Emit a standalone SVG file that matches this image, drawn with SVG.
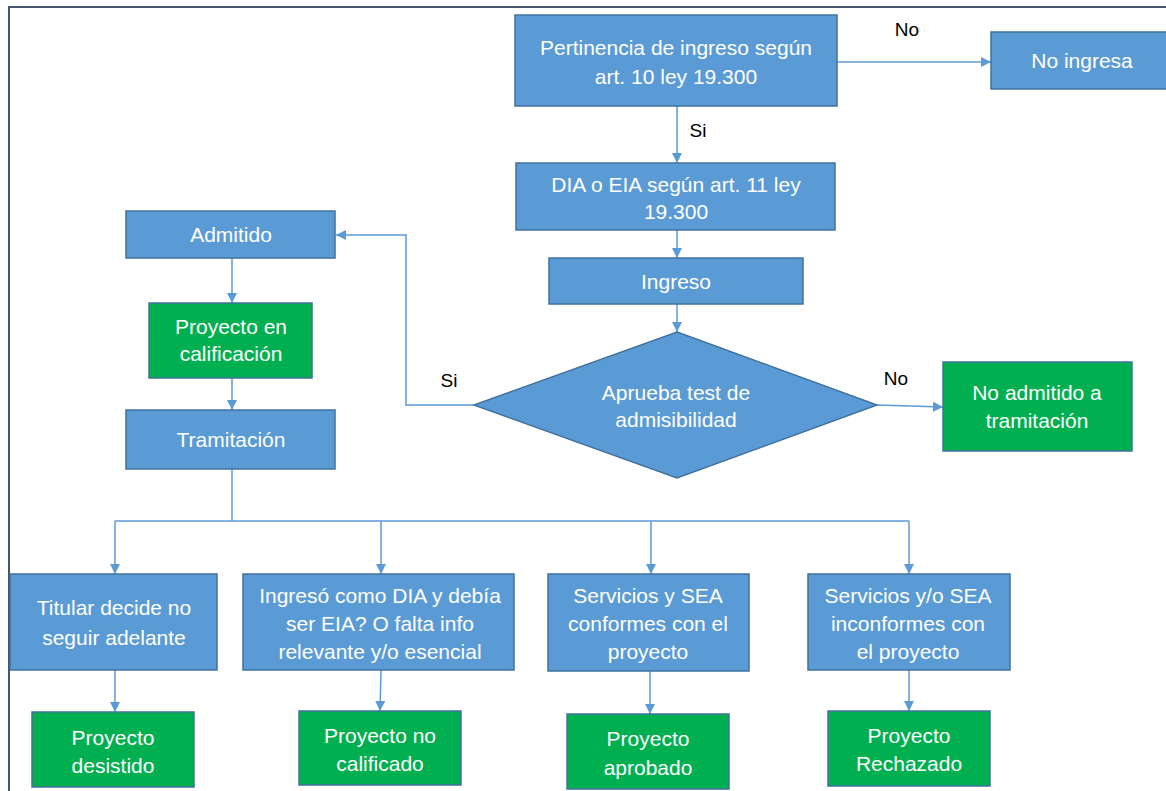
<svg xmlns="http://www.w3.org/2000/svg" width="1166" height="791" viewBox="0 0 1166 791">
<style>
.b{fill:#5b9bd5;stroke:#41719c;stroke-width:1.5}
.g{fill:#00b050;stroke:#41719c;stroke-width:1.5}
.t{font-family:"Liberation Sans",Arial,sans-serif;font-size:21px;fill:#ffffff;text-anchor:middle}
.l{font-family:"Liberation Sans",Arial,sans-serif;font-size:19px;fill:#000000;text-anchor:middle}
.c{fill:none;stroke:#5b9bd5;stroke-width:1.5}
</style>
<defs>
<marker id="ah" viewBox="0 0 10 10" refX="10" refY="5" markerWidth="10" markerHeight="10" markerUnits="userSpaceOnUse" orient="auto">
<path d="M0,0 L10,5 L0,10 Z" fill="#5b9bd5"/>
</marker>
</defs>
<rect width="1166" height="791" fill="#ffffff"/>
<path d="M9,800 L9,7 L1170,7" fill="none" stroke="#44546a" stroke-width="2"/>
<g id="connectors">
<path class="c" d="M837,62 L991,62" marker-end="url(#ah)"/>
<path class="c" d="M677,106 L677,163" marker-end="url(#ah)"/>
<path class="c" d="M677,230 L677,258" marker-end="url(#ah)"/>
<path class="c" d="M677,304 L677,332" marker-end="url(#ah)"/>
<path class="c" d="M474,405 L406,405 L406,235 L336,235" marker-end="url(#ah)"/>
<path class="c" d="M877,405 L943,407" marker-end="url(#ah)"/>
<path class="c" d="M232,258 L232,303" marker-end="url(#ah)"/>
<path class="c" d="M232,378 L232,410" marker-end="url(#ah)"/>
<path class="c" d="M232,469 L232,521"/>
<path class="c" d="M115,521 L909,521"/>
<path class="c" d="M115,521 L115,574" marker-end="url(#ah)"/>
<path class="c" d="M381,521 L381,574" marker-end="url(#ah)"/>
<path class="c" d="M651,521 L651,574" marker-end="url(#ah)"/>
<path class="c" d="M909,521 L909,574" marker-end="url(#ah)"/>
<path class="c" d="M115,670 L115,712" marker-end="url(#ah)"/>
<path class="c" d="M381,670 L380,711" marker-end="url(#ah)"/>
<path class="c" d="M650,671 L650,714" marker-end="url(#ah)"/>
<path class="c" d="M909,670 L909,711" marker-end="url(#ah)"/>
<text class="l" x="907" y="36">No</text>
<text class="l" x="698" y="137">Si</text>
<text class="l" x="449" y="387">Si</text>
<text class="l" x="896" y="385">No</text>
</g>
<g id="pertinencia">
<rect class="b" x="515" y="15" width="322" height="91"/>
<text class="t" x="676" y="55">Pertinencia de ingreso según</text>
<text class="t" x="676" y="84">art. 10 ley 19.300</text>
</g>
<g id="no-ingresa">
<rect class="b" x="991" y="32" width="182" height="57"/>
<text class="t" x="1082" y="68">No ingresa</text>
</g>
<g id="dia-eia">
<rect class="b" x="516" y="163" width="319" height="67"/>
<text class="t" x="676" y="192">DIA o EIA según art. 11 ley</text>
<text class="t" x="676" y="219">19.300</text>
</g>
<g id="ingreso">
<rect class="b" x="549" y="258" width="254" height="46"/>
<text class="t" x="676" y="289">Ingreso</text>
</g>
<g id="test">
<polygon class="b" points="677,332 877,405 677,478 474,405"/>
<text class="t" x="676" y="400">Aprueba test de</text>
<text class="t" x="676" y="427">admisibilidad</text>
</g>
<g id="no-admitido">
<rect class="g" x="943" y="362" width="189" height="89"/>
<text class="t" x="1037" y="400">No admitido a</text>
<text class="t" x="1037" y="428">tramitación</text>
</g>
<g id="admitido">
<rect class="b" x="126" y="211" width="209" height="47"/>
<text class="t" x="231" y="242">Admitido</text>
</g>
<g id="en-calificacion">
<rect class="g" x="149" y="303" width="163" height="75"/>
<text class="t" x="231" y="334">Proyecto en</text>
<text class="t" x="231" y="361">calificación</text>
</g>
<g id="tramitacion">
<rect class="b" x="126" y="410" width="209" height="59"/>
<text class="t" x="231" y="447">Tramitación</text>
</g>
<g id="titular">
<rect class="b" x="10" y="574" width="207" height="96"/>
<text class="t" x="114" y="615">Titular decide no</text>
<text class="t" x="114" y="645">seguir adelante</text>
</g>
<g id="ingreso-dia">
<rect class="b" x="243" y="574" width="271" height="96"/>
<text class="t" x="380" y="603">Ingresó como DIA y debía</text>
<text class="t" x="380" y="631">ser EIA? O falta info</text>
<text class="t" x="380" y="659">relevante y/o esencial</text>
</g>
<g id="conformes">
<rect class="b" x="548" y="574" width="201" height="97"/>
<text class="t" x="648" y="603">Servicios y SEA</text>
<text class="t" x="648" y="631">conformes con el</text>
<text class="t" x="648" y="659">proyecto</text>
</g>
<g id="inconformes">
<rect class="b" x="808" y="574" width="202" height="96"/>
<text class="t" x="908" y="603">Servicios y/o SEA</text>
<text class="t" x="908" y="631">inconformes con</text>
<text class="t" x="908" y="659">el proyecto</text>
</g>
<g id="desistido">
<rect class="g" x="32" y="712" width="162" height="75"/>
<text class="t" x="113" y="745">Proyecto</text>
<text class="t" x="113" y="773">desistido</text>
</g>
<g id="no-calificado">
<rect class="g" x="299" y="711" width="162" height="74"/>
<text class="t" x="380" y="743">Proyecto no</text>
<text class="t" x="380" y="771">calificado</text>
</g>
<g id="aprobado">
<rect class="g" x="567" y="714" width="162" height="75"/>
<text class="t" x="648" y="746">Proyecto</text>
<text class="t" x="648" y="775">aprobado</text>
</g>
<g id="rechazado">
<rect class="g" x="828" y="711" width="162" height="75"/>
<text class="t" x="909" y="743">Proyecto</text>
<text class="t" x="909" y="771">Rechazado</text>
</g>
</svg>
